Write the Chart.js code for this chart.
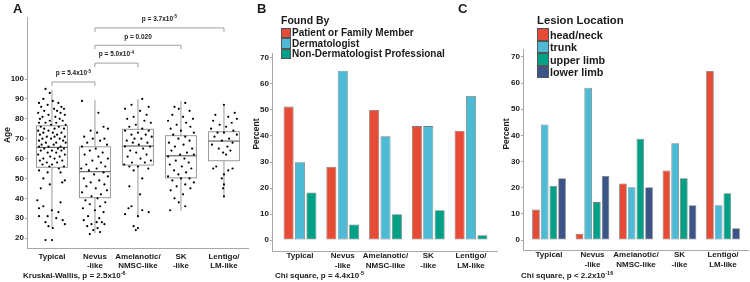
<!DOCTYPE html>
<html>
<head>
<meta charset="utf-8">
<script src="https://cdn.jsdelivr.net/npm/chart.js@4.4.1/dist/chart.umd.min.js"></script>
<style>
    body { margin: 0; width: 750px; height: 282px; background: #fff; position: relative; overflow: hidden;
           font-family: "Liberation Sans", Arial, sans-serif; font-weight: bold; color: #1a1a1a; }
    canvas { position: absolute; top: 0; }
    .txt { position: absolute; white-space: nowrap; line-height: 1; }
    .letter { font-size: 13px; }
    .note { font-size: 8px; }
    .note sup { font-size: 5.5px; line-height: 0; vertical-align: 3px; }
    .ytitle { font-size: 8.5px; transform: translate(-50%, -50%) rotate(-90deg); }
    .legend { position: absolute; }
    .legend .ttl { line-height: 1; margin-bottom: 2px; }
    .legend .row { display: flex; align-items: center; }
    .legend .sw { box-sizing: border-box; border: 1px solid #555; margin-right: 1px; }
</style>
</head>
<body>
<canvas id="chartA" width="250" height="282" style="left:0"></canvas>
<canvas id="chartB" width="250" height="282" style="left:250px"></canvas>
<canvas id="chartC" width="250" height="282" style="left:500px"></canvas>

<div class="txt letter" style="left:13px;top:2px">A</div>
<div class="txt letter" style="left:257px;top:2px">B</div>
<div class="txt letter" style="left:458px;top:2px">C</div>

<div class="txt ytitle" style="left:7px;top:135px">Age</div>
<div class="txt ytitle" style="left:256px;top:134px">Percent</div>
<div class="txt ytitle" style="left:506px;top:134px">Percent</div>

<div class="txt note" style="left:23px;top:272px">Kruskal-Wallis, p = 2.5x10<sup>-6</sup></div>
<div class="txt note" style="left:275px;top:272px">Chi square, p = 4.4x10<sup>-5</sup></div>
<div class="txt note" style="left:521px;top:272px">Chi square, p &lt; 2.2x10<sup>-16</sup></div>

<div class="legend" id="legendB" style="left:281px;top:15px"></div>
<div class="legend" id="legendC" style="left:537px;top:15px"></div>

<script>
const categories = [['Typical'], ['Nevus', '-like'], ['Amelanotic/', 'NMSC-like'], ['SK', '-like'], ['Lentigo/', 'LM-like']];

// A: age by subtype (box plot + jittered points)
const ageTicks = [20, 30, 40, 50, 60, 70, 80, 90, 100];
const whiskerLow = [25.4, 22.4, 30.4, 33.6, 40.3];
const quartile1 = [55.6, 40.3, 56.7, 50.3, 58.9];
const medianAge = [65.6, 53.4, 66.3, 61.4, 68.8];
const quartile3 = [76.5, 65.9, 74.7, 71.5, 73.5];
const whiskerHigh = [94.5, 89.4, 89.9, 89, 86.6];

// [jitter, age]
const typicalPts = [[-0.15,95],[-0.05,93],[-0.2,90],[0.02,89],[-0.3,88],[0.15,88],[-0.1,87],[0.22,86],[-0.25,86],[0.05,85],[0.28,85],[-0.18,84],[0.12,84],[-0.32,83],[0.2,83],[-0.08,82],[0.3,82],[-0.22,81],[0.08,81],[-0.28,80],[0.18,80],[-0.05,79],[0.25,79],[-0.3,78],[0.1,78],[-0.15,78],[0.32,77],[-0.02,77],[-0.26,76],[0.16,76],[0.06,75],[-0.18,75],[0.28,75],[-0.32,74],[-0.08,74],[0.22,73],[-0.2,73],[0.02,73],[0.12,72],[-0.28,72],[0.3,71],[-0.12,71],[0.06,71],[-0.22,70],[0.18,70],[-0.02,70],[0.26,69],[-0.3,69],[0.1,68],[-0.14,68],[0.32,68],[-0.24,67],[0.04,67],[0.2,66],[-0.08,66],[-0.3,66],[0.14,65],[-0.18,65],[0.28,65],[0.0,64],[-0.26,64],[0.22,64],[-0.1,63],[0.1,63],[-0.32,62],[0.3,62],[-0.04,61],[0.18,61],[-0.2,60],[0.06,60],[-0.28,59],[0.24,59],[-0.12,58],[0.12,58],[0.0,57],[-0.22,57],[0.28,56],[-0.06,56],[0.16,55],[-0.3,54],[-0.1,53],[0.2,53],[-0.2,50],[0.3,49],[0.24,48],[-0.05,47],[-0.26,45],[-0.34,39],[0.2,38],[-0.2,36],[-0.3,35],[0.0,34],[0.15,33],[-0.3,31],[-0.1,31],[0.1,30],[0.25,29],[-0.15,28],[0.3,27],[-0.08,26],[0.02,25],[-0.15,19],[0.0,19]];
const nevusPts = [[-0.3,89],[0.08,83],[0.2,76],[0.3,75],[-0.1,74],[0.05,73],[-0.25,71],[0.22,70],[-0.05,70],[0.12,69],[-0.18,68],[0.28,67],[-0.3,66],[0.02,65],[-0.12,64],[0.18,63],[-0.24,62],[0.08,61],[0.3,60],[-0.06,59],[0.14,58],[-0.2,57],[0.24,56],[-0.32,55],[0.04,55],[-0.14,54],[0.2,53],[-0.02,52],[0.3,51],[-0.26,50],[0.1,49],[-0.1,48],[0.22,47],[-0.2,46],[0.02,45],[0.28,44],[-0.3,43],[0.14,42],[-0.08,41],[0.06,40],[-0.22,39],[0.24,38],[-0.12,37],[0.12,36],[-0.28,35],[0.0,34],[0.2,33],[-0.16,31],[0.1,30],[-0.26,29],[0.16,28],[0.04,28],[-0.08,27],[0.22,27],[-0.18,26],[0.06,25],[-0.04,24],[0.12,23],[-0.12,22]];
const amelPts = [[0.1,90],[-0.15,87],[0.25,86],[-0.3,85],[0.05,84],[0.2,82],[-0.1,81],[-0.25,80],[0.15,79],[0.3,78],[-0.05,77],[-0.2,76],[0.1,75],[0.25,74],[-0.3,74],[0.0,73],[-0.15,72],[0.18,72],[0.32,71],[-0.08,70],[0.08,70],[-0.26,69],[0.22,68],[-0.12,68],[0.02,67],[-0.3,66],[0.28,66],[0.12,65],[-0.18,64],[-0.04,63],[0.2,62],[-0.24,61],[0.06,60],[0.3,59],[-0.14,58],[0.16,58],[-0.32,57],[0.0,56],[-0.2,56],[0.24,55],[-0.1,54],[0.1,50],[-0.2,46],[0.05,42],[-0.15,36],[-0.22,35],[0.1,34],[0.25,33],[-0.3,32],[0.0,31],[-0.1,26],[0.0,25],[-0.05,24]];
const skPts = [[0.1,88],[-0.15,86],[-0.05,85],[0.2,84],[-0.2,82],[0.05,81],[0.28,80],[-0.3,79],[0.12,78],[-0.1,77],[0.22,76],[-0.24,75],[0.0,74],[0.3,73],[-0.18,72],[0.1,71],[-0.06,70],[0.2,69],[-0.28,68],[0.06,67],[-0.14,66],[0.26,65],[-0.22,64],[0.14,63],[-0.02,62],[0.3,62],[-0.3,61],[0.08,60],[-0.12,59],[0.18,58],[-0.26,57],[0.02,56],[0.24,55],[-0.16,54],[0.12,53],[-0.06,52],[-0.3,51],[0.2,50],[0.0,50],[-0.2,49],[0.3,48],[0.1,47],[-0.1,46],[0.22,45],[-0.24,44],[0.05,42],[-0.15,40],[-0.05,38],[0.1,36],[-0.25,34]];
const lentigoPts = [[0.0,87],[0.25,83],[-0.2,82],[0.1,81],[0.3,80],[-0.25,79],[0.18,78],[-0.1,77],[0.05,76],[-0.3,75],[0.22,74],[-0.15,73],[0.0,73],[0.3,72],[-0.22,71],[0.12,70],[-0.05,69],[0.2,68],[-0.28,67],[0.08,66],[-0.12,65],[0.15,64],[-0.02,63],[0.05,62],[-0.18,56],[0.2,55],[-0.25,55],[0.1,54],[0.0,52],[-0.05,50],[0.0,47],[-0.02,45],[0.0,41]];

// significance brackets
const pairFrom = [1, 2, 2, 2];
const pairTo = [2, 3, 4, 5];
const pairAt = [98.5, 108, 117, 125.7];
const pairText = ['p = 5.4x10', 'p = 5.0x10', 'p = 0.020', 'p = 3.7x10'];
const pairExp = ['-5', '-4', '', '-5'];

// B: found by (%)
const percentTicks = [0, 10, 20, 30, 40, 50, 60, 70];
const foundByNames = ['Patient or Family Member', 'Dermatologist', 'Non-Dermatologist Professional'];
const foundPatient = [51.3, 28.2, 50, 43.8, 42];
const foundDerm = [29.9, 65.1, 39.9, 43.8, 55.4];
const foundOther = [18.3, 6, 9.9, 11.5, 1.9];

// C: lesion location (%)
const locationNames = ['head/neck', 'trunk', 'upper limb', 'lower limb'];
const locHead = [11.7, 2.3, 21.6, 26.6, 64.6];
const locTrunk = [44.2, 58.2, 20.2, 37, 13.3];
const locUpper = [20.7, 14.5, 38.7, 23.6, 17.9];
const locLower = [23.6, 24.5, 20.2, 13.3, 4.5];

const palette = ['#E64B35', '#4DBBD5', '#00A087', '#3C5488'];
const axisGray = '#a8a8a8';
const fontFamily = '"Liberation Sans", Arial, sans-serif';
const tickFont = { family: fontFamily, size: 8, weight: 'bold', lineHeight: 1.15 };

function xScale(min, max, height, pad) {
    return {
        type: 'linear', min, max, offset: false,
        afterBuildTicks: (s) => { s.ticks = categories.map((c, i) => ({ value: i + 1 })); },
        afterFit: (s) => { s.height = height; },
        ticks: { font: tickFont, color: '#1a1a1a', padding: pad, maxRotation: 0, autoSkip: false,
                 callback: (v) => categories[Math.round(v) - 1] || '' },
        grid: { display: false, drawTicks: false },
        border: { color: axisGray, width: 1 }
    };
}

function yScale(min, max, tickValues, width) {
    return {
        min, max,
        afterBuildTicks: (s) => { s.ticks = tickValues.map((v) => ({ value: v })); },
        afterFit: (s) => { s.width = width; },
        ticks: { font: tickFont, color: '#1a1a1a', padding: 1 },
        grid: { display: true, drawOnChartArea: false, tickLength: 2, color: axisGray },
        border: { color: axisGray, width: 1 }
    };
}

const boxPlugin = {
    id: 'boxes',
    beforeDatasetsDraw(chart) {
        const { ctx, scales: { x, y } } = chart;
        ctx.save();
        medianAge.forEach((m, i) => {
            const cx = x.getPixelForValue(i + 1);
            const hw = x.getPixelForValue(i + 1.36) - cx;
            const top = y.getPixelForValue(quartile3[i]);
            const bot = y.getPixelForValue(quartile1[i]);
            ctx.strokeStyle = '#9a9a9a';
            ctx.lineWidth = 1;
            ctx.beginPath();
            ctx.moveTo(cx, y.getPixelForValue(whiskerHigh[i]));
            ctx.lineTo(cx, top);
            ctx.moveTo(cx, bot);
            ctx.lineTo(cx, y.getPixelForValue(whiskerLow[i]));
            ctx.stroke();
            ctx.strokeRect(cx - hw, top, hw * 2, bot - top);
            ctx.strokeStyle = '#666';
            ctx.lineWidth = 1.2;
            ctx.beginPath();
            ctx.moveTo(cx - hw, y.getPixelForValue(m));
            ctx.lineTo(cx + hw, y.getPixelForValue(m));
            ctx.stroke();
        });
        ctx.restore();
    },
    afterDatasetsDraw(chart) {
        const { ctx, scales: { x, y } } = chart;
        ctx.save();
        pairFrom.forEach((a, i) => {
            const x1 = x.getPixelForValue(a);
            const x2 = x.getPixelForValue(pairTo[i]);
            const yy = y.getPixelForValue(pairAt[i]);
            const yd = y.getPixelForValue(pairAt[i] - 2);
            ctx.strokeStyle = '#a0a0a0';
            ctx.lineWidth = 1;
            ctx.beginPath();
            ctx.moveTo(x1, yd);
            ctx.lineTo(x1, yy);
            ctx.lineTo(x2, yy);
            ctx.lineTo(x2, yd);
            ctx.stroke();

            const baseFont = `bold 6.5px ${fontFamily}`;
            const supFont = `bold 4.5px ${fontFamily}`;
            ctx.font = baseFont;
            const w1 = ctx.measureText(pairText[i]).width;
            ctx.font = supFont;
            const w2 = pairExp[i] ? ctx.measureText(pairExp[i]).width : 0;
            const left = (x1 + x2) / 2 - (w1 + w2) / 2;
            const cy = yy - 8.5;
            ctx.fillStyle = '#1a1a1a';
            ctx.textAlign = 'left';
            ctx.textBaseline = 'middle';
            ctx.font = baseFont;
            ctx.fillText(pairText[i], left, cy);
            if (pairExp[i]) {
                ctx.font = supFont;
                ctx.fillText(pairExp[i], left + w1, cy - 2.2);
            }
        });
        ctx.restore();
    }
};

function initAgePanel() {
    const groups = [typicalPts, nevusPts, amelPts, skPts, lentigoPts];
    new Chart(document.getElementById('chartA'), {
        type: 'scatter',
        data: {
            datasets: groups.map((pts, i) => ({
                data: pts.map((p) => ({ x: i + 1 + p[0], y: p[1] })),
                pointRadius: 1.1, pointBorderWidth: 0, backgroundColor: '#000', pointHoverRadius: 0
            }))
        },
        options: {
            responsive: false, animation: false, events: [],
            layout: { padding: { top: 17, right: 0, left: 0, bottom: 0 } },
            plugins: { legend: { display: false }, tooltip: { enabled: false } },
            scales: { x: xScale(0.42, 5.58, 34, 4), y: yScale(15, 131.2, ageTicks, 27) }
        },
        plugins: [boxPlugin]
    });
}

function initBarPanel(id, names, series, yMin, yMax, xMin, xMax, top, right, xHeight, yWidth, legendId, legendFont, rowH) {
    new Chart(document.getElementById(id), {
        type: 'bar',
        data: {
            datasets: series.map((vals, i) => ({
                label: names[i],
                data: vals.map((v, j) => ({ x: j + 1, y: v })),
                backgroundColor: palette[i], borderColor: '#7c7c7c', borderWidth: 0.8, borderSkipped: false,
                barPercentage: 0.88, categoryPercentage: 0.8
            }))
        },
        options: {
            responsive: false, animation: false, events: [],
            layout: { padding: { top, right, left: 0, bottom: 0 } },
            plugins: { legend: { display: false }, tooltip: { enabled: false } },
            scales: { x: xScale(xMin, xMax, xHeight, 0.5), y: yScale(yMin, yMax, percentTicks, yWidth) }
        }
    });
    const legend = document.getElementById(legendId);
    legend.innerHTML = `<div class="ttl" style="font-size:${legendFont + 0.5}px">${legendId === 'legendB' ? 'Found By' : 'Lesion Location'}</div>` +
        names.map((n, i) => `<div class="row" style="height:${rowH}px;font-size:${legendFont}px">
            <div class="sw" style="width:${rowH - 0.5}px;height:${rowH}px;background:${palette[i]}"></div>${n}</div>`).join('');
}

initAgePanel();
initBarPanel('chartB', foundByNames, [foundPatient, foundDerm, foundOther], -4.2, 71.9, 0.345, 5.608, 53, 3, 31, 22, 'legendB', 10, 10.5);
initBarPanel('chartC', locationNames, [locHead, locTrunk, locUpper, locLower], -3.8, 73, 0.402, 5.575, 49, 2, 32, 23, 'legendC', 10.8, 12.5);
</script>
</body>
</html>
